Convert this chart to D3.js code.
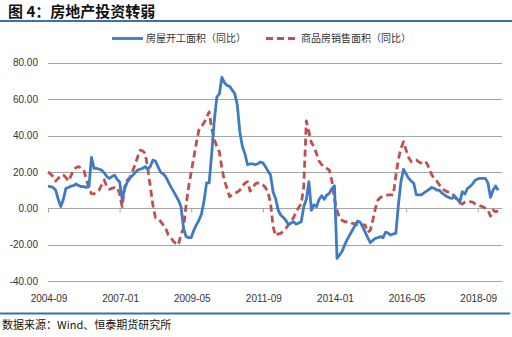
<!DOCTYPE html>
<html><head><meta charset="utf-8">
<script src="https://cdn.jsdelivr.net/npm/d3@7"></script>
<style>
html,body{margin:0;padding:0;background:#fff;}
svg{display:block;}
</style></head>
<body>
<script>
// ---- data ----
const seriesNames = ["房屋开工面积（同比）", "商品房销售面积（同比）"];
const startMonth = "2004-09";
const tickLabels = ["2004-09","2007-01","2009-05","2011-09","2014-01","2016-05","2018-09"];
const tickStep = 28;
const yTicks = [-40,-20,0,20,40,60,80];

// 房屋新开工面积 同比 (monthly, from 2004-09)
const startsYoY = [
 12.3,12,11.5,10,5,1,5,11,11.5,12.3,12.5,13.4,
 12.5,12,12,11.6,12,28,22,22,21.5,21,19.5,17.5,
 16.5,17.5,18.3,16,14.5,5,11,14.5,16.5,18,19.5,21,
 21.5,22,23,21.5,23,26.5,26,23,20,19,17.5,14.7,
 12,9.5,7,4.5,1,-11,-15.5,-16,-16,-12,-9,-6.5,
 -3,4,14,14,30,48,61,63,72,69,67.5,67,
 65,63,57,42,34,30,24,24.5,24.5,24,24.5,25.5,
 25,23,20.5,18.5,9,5.5,-1,-3.6,-5,-6.5,-9,-8,
 -7.3,-8.6,-8,-7.3,0.9,5,14.7,-1,2,1,5,7,
 5,7.4,8.3,11,12.5,-27.4,-25.5,-23.5,-20,-17,-14.5,-12,
 -9.5,-7,-7.5,-10,-13,-16,-18.8,-17.5,-16.4,-16,-15.5,-16,
 -13,-13.5,-14.6,-14,-13.7,1.9,14.7,21.5,19,16.5,15,13.8,
 7.5,7.4,7.4,8.5,9.5,10.5,11.5,11,10,10,8.5,7.5,
 6.5,5.8,5.5,6.8,5,3.5,9.2,7.9,11,12,13.5,15.5,
 16.2,16.5,16.5,16.5,14,6.1,10,12.3,10
];
// 商品房销售面积 同比 (monthly, from 2004-09)
const salesYoY = [
 20,19,17.4,15,16.5,18,18.3,17,15,18,21,22.5,
 23,22,21,16,11,8,8,9,10,13,15.6,12,
 10.5,11,11.5,11.6,8,1,12,15.5,17,20,24,28,
 32,31.5,30.3,22,12,2,-5,-5.5,-7,-9,-11,-14.5,
 -16,-18,-19.2,-20,-14,-11,2,12,20,28,36,43,
 45,47,50,53,44,38,34,31,22,15,11,6.5,
 7.5,8.3,9,10,12,14,14.7,9.5,11,13.5,14,13.8,
 13,11.5,9,3,-10,-15,-14,-13.7,-12.5,-11,-9,-7.3,
 -5,-2,0.5,2.5,12,48,42,36,34,30,26,24,
 23,22,21,15,5,-1,-5.4,-6.5,-7.3,-7.3,-7.5,-8.2,
 -8.5,-9,-9.1,-9.1,-9.1,-13,-12,-6.4,0,4.6,6,6.8,
 7,7.4,7.4,7.4,18,27,33,36.6,32,28,25.7,26,
 26.6,25.5,24.8,24,25.1,22,18.5,16.5,15,13,11,10,
 9.2,8.8,8.3,6.5,4.6,3,2.4,3.5,3.7,3.7,3.5,2.5,
 1.9,1.4,0.9,0,-0.9,-4.2,-1,-1.8,-1.5
];

// ---- drawing ----
const W = 512, H = 337;
const svg = d3.select("body").append("svg").attr("width", W).attr("height", H);
const fontCJK = "'Noto Sans CJK SC','Noto Sans',sans-serif";
const fontNum = "'Liberation Sans',Arial,sans-serif";

// title
svg.append("text").attr("x", 8).attr("y", 17)
  .attr("font-family", fontCJK).attr("font-weight", "bold").attr("font-size", 15)
  .attr("fill", "#111").text("图 4：房地产投资转弱");
svg.append("rect").attr("x", 0).attr("y", 20).attr("width", W).attr("height", 2).attr("fill", "#3a6fb5");

// footer
svg.append("rect").attr("x", 0).attr("y", 312.5).attr("width", 510).attr("height", 2).attr("fill", "#3a6fb5");
svg.append("text").attr("x", 2).attr("y", 329)
  .attr("font-family", fontCJK).attr("font-size", 11).attr("fill", "#111")
  .text("数据来源：Wind、恒泰期货研究所");

const x = d3.scaleLinear().domain([0, 177.5]).range([48, 502]);
const y = d3.scaleLinear().domain([-40, 80]).range([281.3, 62.7]);

// gridlines
svg.append("g").selectAll("line").data(yTicks).join("line")
  .attr("x1", 48).attr("x2", 502)
  .attr("y1", d => Math.round(y(d)) + 0.5).attr("y2", d => Math.round(y(d)) + 0.5)
  .attr("stroke", "#a6a6a6").attr("stroke-width", 1);

// y labels
svg.append("g").selectAll("text").data(yTicks).join("text")
  .attr("x", 38).attr("y", d => y(d) + 3.5).attr("text-anchor", "end")
  .attr("font-family", fontNum).attr("font-size", 10).attr("fill", "#333")
  .text(d => d.toFixed(2));

// x axis ticks on zero line
const tickIdx = tickLabels.map((_, i) => i * tickStep);
const xAxis = d3.axisBottom(x).tickValues(tickIdx).tickFormat("").tickSize(4).tickSizeOuter(0);
const gx = svg.append("g").attr("transform", `translate(0,${Math.round(y(0)) + 0.5})`).call(xAxis);
gx.select(".domain").remove();
gx.selectAll("line").attr("stroke", "#a6a6a6");

// x labels
svg.append("g").selectAll("text").data(tickLabels).join("text")
  .attr("x", (d, i) => x(i * tickStep) + 1).attr("y", 302).attr("text-anchor", "middle")
  .attr("font-family", fontNum).attr("font-size", 10).attr("fill", "#333")
  .text(d => d);

// lines
const line = d3.line().x((d, i) => x(i)).y(d => y(d)).curve(d3.curveLinear);
svg.append("path").datum(salesYoY).attr("d", line)
  .attr("fill", "none").attr("stroke", "#c0504d").attr("stroke-width", 2.8)
  .attr("stroke-dasharray", "7,4").attr("stroke-linejoin", "round");
svg.append("path").datum(startsYoY).attr("d", line)
  .attr("fill", "none").attr("stroke", "#3f7bc4").attr("stroke-width", 2.8)
  .attr("stroke-linejoin", "round");

// legend
const lg = svg.append("g");
lg.append("line").attr("x1", 112).attr("x2", 143).attr("y1", 38.5).attr("y2", 38.5)
  .attr("stroke", "#3f7bc4").attr("stroke-width", 2.8);
lg.append("text").attr("x", 146).attr("y", 42).attr("font-family", fontCJK)
  .attr("font-size", 10).attr("fill", "#333").text(seriesNames[0]);
lg.append("line").attr("x1", 266).attr("x2", 297).attr("y1", 38.5).attr("y2", 38.5)
  .attr("stroke", "#c0504d").attr("stroke-width", 2.8).attr("stroke-dasharray", "7,4");
lg.append("text").attr("x", 301).attr("y", 42).attr("font-family", fontCJK)
  .attr("font-size", 10).attr("fill", "#333").text(seriesNames[1]);
</script>
</body></html>
